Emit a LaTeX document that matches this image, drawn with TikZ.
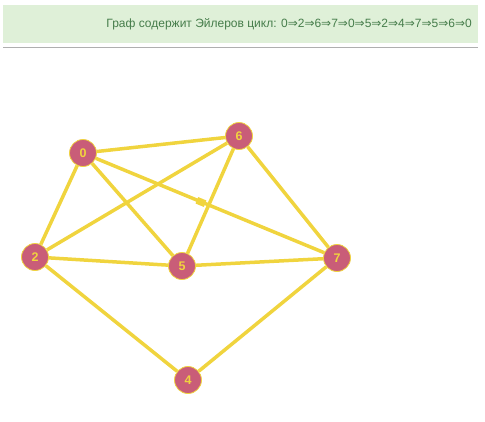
\documentclass[tikz,border=0pt]{standalone}
\usepackage{fontspec}
\setmainfont{Liberation Sans}
\newfontfamily\arrowfont{DejaVu Sans}
\usetikzlibrary{positioning}
\definecolor{eulerbanner}{RGB}{223,240,216}
\definecolor{eulertext}{RGB}{70,125,75}
\definecolor{eulerrule}{RGB}{175,175,175}
\definecolor{vertexrose}{RGB}{201,93,120}
\definecolor{edgeyellow}{RGB}{240,212,62}
\newcommand{\thento}{{\arrowfont ⇒}}

\begin{document}
\begin{tikzpicture}[x=1pt, y=-1pt,
    vertex/.style={circle, fill=vertexrose, draw=edgeyellow, line width=0.8pt,
                   minimum size=27pt, inner sep=0pt, text=edgeyellow,
                   font=\bfseries\fontsize{12.5}{12.5}\selectfont},
    edge/.style={edgeyellow, line width=3.5pt}]
  \useasboundingbox (0,0) rectangle (485,421);
  % Result banner
  \fill[eulerbanner] (3,5) rectangle (478,43);
  \node[anchor=east, text=eulertext, inner sep=0pt,
        font=\fontsize{12}{12}\selectfont] (banner) at (472,24)
    {Граф содержит Эйлеров цикл: 0\thento2\thento6\thento7\thento0\thento5\thento2\thento4\thento7\thento5\thento6\thento0};
  \draw[eulerrule, line width=1.2pt] (3,47.5) -- (478,47.5);
  % Vertices
  \foreach \name/\x/\y in {0/83/153, 6/239/136, 2/35/257, 5/182/266, 7/337/258, 4/188/380} {
    \node[vertex] (v\name) at (\x,\y) {\name};
  }
  % Edges of the cycle
  \foreach \a/\b in {0/2, 2/6, 6/7, 7/0, 0/5, 5/2, 2/4, 4/7, 7/5, 5/6, 6/0} {
    \draw[edge] (v\a) -- (v\b);
  }
  % Small marker on edge 0-7
  \node[fill=edgeyellow, minimum width=9pt, minimum height=7pt, inner sep=0pt,
        rotate=-22.5] (mark) at (201,202) {};
\end{tikzpicture}
\end{document}
